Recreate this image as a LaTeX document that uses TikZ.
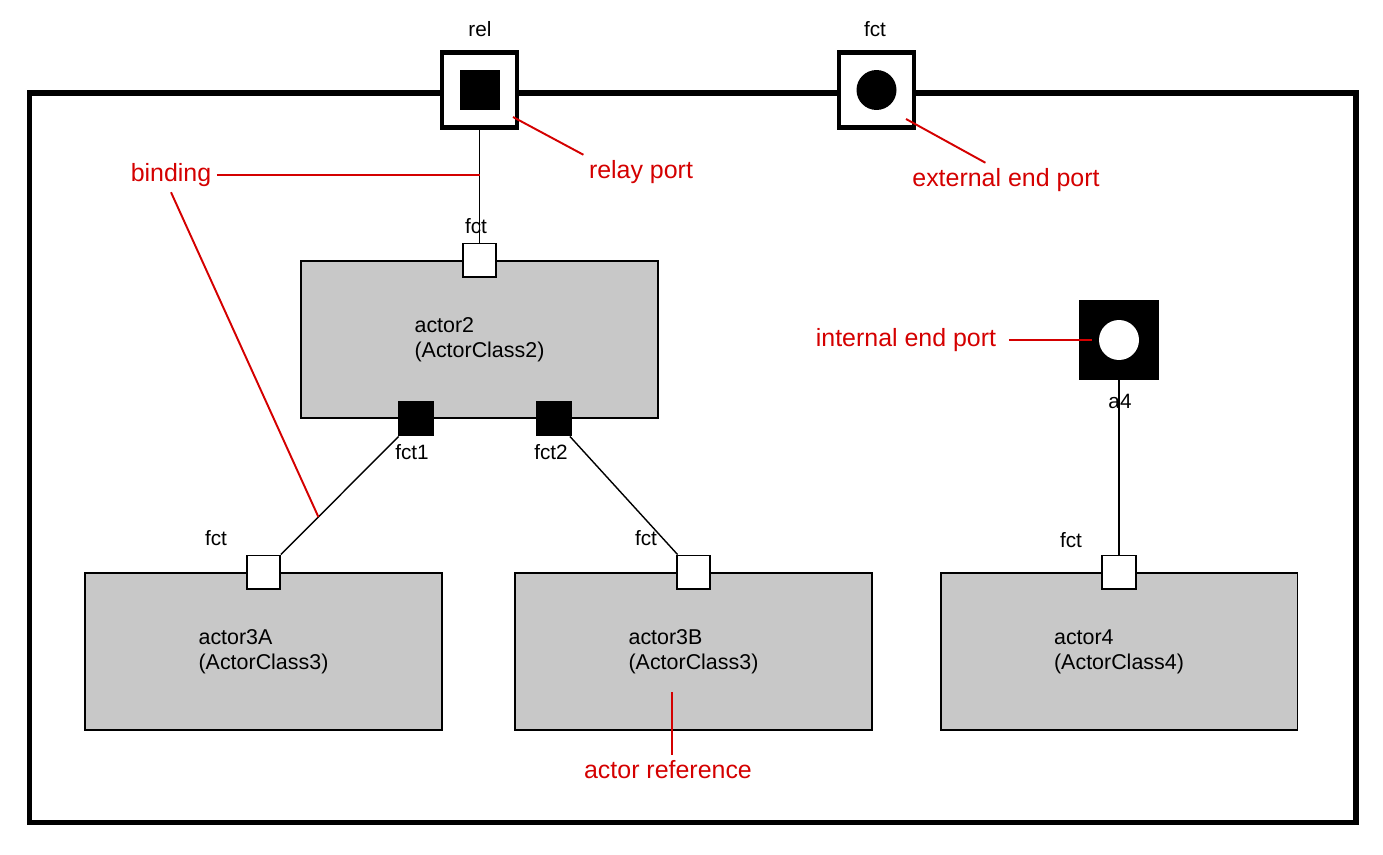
\documentclass[tikz,border=0pt]{standalone}
\usepackage{fontspec}
\setmainfont{Liberation Sans}
\usetikzlibrary{calc, positioning}
\definecolor{rtgray}{HTML}{C8C8C8}
\definecolor{rtred}{HTML}{D40000}

\begin{document}
\begin{tikzpicture}[x=0.02cm, y=-0.02cm,
    lbl/.style={font=\fontsize{11.8}{14.2}\selectfont, inner sep=0pt},
    note/.style={font=\fontsize{14.2}{17}\selectfont, text=rtred, inner sep=3pt},
    noteline/.style={draw=rtred, line width=1.1pt},
    actor/.style={draw, line width=1.1pt, fill=rtgray, minimum width=7.14cm, minimum height=3.14cm, align=left, font=\fontsize{12.2}{14.2}\selectfont},
    port/.style={draw, line width=0.9pt, fill=white, minimum size=0.67cm, inner sep=0pt},
    fullport/.style={port, fill=black},
    relaybox/.style={draw, line width=2.3pt, fill=white, minimum size=1.5cm, inner sep=0pt},
    wire/.style={line width=0.8pt}]
  \useasboundingbox (0,0) rectangle (1383,855);

  % Frame
  \draw[line width=3.4pt] (29.5,93) rectangle (1355.5,822.5);

  % Ports on the frame
  \node[relaybox] (relport) at (479.5,90) {};
  \node[fill, minimum size=0.8cm, inner sep=0pt] (relin) at (relport) {};
  \node[lbl] (rellbl) at (480,29) {rel};
  \node[relaybox] (extport) at (876.5,90) {};
  \node[circle, fill, minimum size=0.8cm, inner sep=0pt] (extin) at (extport) {};
  \node[lbl] (extlbl) at (875,29) {fct};

  % actor2
  \node[actor] (a2) at (479.5,339.5) {actor2\\(ActorClass2)};
  \node[port] (a2p) at (a2.north) {};
  \node[fullport] (a2p1) at ($(a2.south)+(-63.5,0)$) {};
  \node[fullport] (a2p2) at ($(a2.south)+(74.5,0)$) {};
  \node[lbl] (a2plbl) at (476,226) {fct};
  \node[lbl] (a2p1lbl) at (412,452) {fct1};
  \node[lbl] (a2p2lbl) at (551,452) {fct2};

  % actor3A, actor3B, actor4
  \node[actor] (a3a) at (263.5,651.5) {actor3A\\(ActorClass3)};
  \node[port] (a3ap) at (a3a.north) {};
  \node[lbl] (a3albl) at (216,538) {fct};
  \node[actor] (a3b) at (693.5,651.5) {actor3B\\(ActorClass3)};
  \node[port] (a3bp) at (a3b.north) {};
  \node[lbl] (a3blbl) at (646,538) {fct};
  \node[actor] (a4) at (1119,651.5) {actor4\\(ActorClass4)};
  \node[port] (a4p) at (a4.north) {};
  \node[lbl] (a4plbl) at (1071,540) {fct};

  % Internal end port
  \node[fill, minimum size=1.6cm, inner sep=0pt] (intport) at (1119,340) {};
  \node[circle, fill=white, minimum size=0.8cm, inner sep=0pt] (intin) at (intport) {};
  \node[lbl] (a4lbl) at (1120,401) {a4};

  % Bindings
  \draw[wire] (relport) -- (a2p);
  \draw[wire] (a2p1) -- (a3ap);
  \draw[wire] (a2p2) -- (a3bp);
  \draw[wire] (intport) -- (a4p);

  % Notes
  \node[note] (binding) at (171,175) {binding};
  \draw[noteline] (binding.east) -- (binding.east -| relport);
  \draw[noteline] (binding.south) -- ($(a2p1)!0.64!(a3ap)$);

  \node[note] (relay) at (641,172) {relay port};
  \coordinate (relaytip) at (513,117);
  \draw[noteline] (relaytip) -- (relay.north west);

  \node[note] (extnote) at (1006,180) {external end port};
  \coordinate (exttip) at (906,119);
  \draw[noteline] (exttip) -- (extnote.140);

  \node[note] (intnote) at (906,340) {internal end port};
  \draw[noteline] ($(intnote.east)+(7,0)$) -- ($(intnote.east -| intport.west)+(13,0)$);

  \node[note] (refnote) at (668,770) {actor reference};
  \coordinate (reftip) at (672,692);
  \draw[noteline] (reftip) -- (reftip |- refnote.north);
\end{tikzpicture}
\end{document}
